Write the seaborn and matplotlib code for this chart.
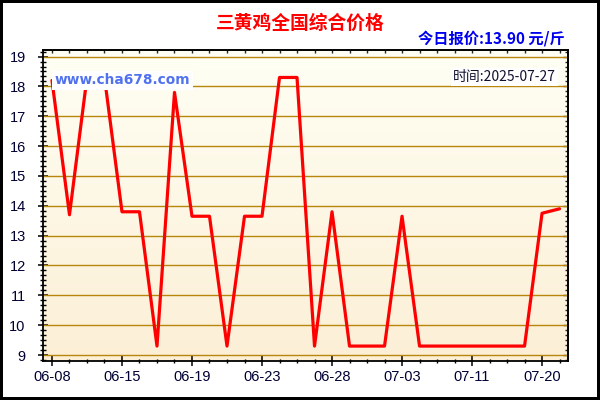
import matplotlib
matplotlib.use("Agg")
import matplotlib.pyplot as plt
import seaborn as sns
import numpy as np
import pandas as pd
from matplotlib.colors import LinearSegmentedColormap
from matplotlib.ticker import MultipleLocator, FixedLocator

# ---- data ----
dates = ["06-08", "06-09", "06-11", "06-13", "06-15", "06-16", "06-17", "06-18",
         "06-19", "06-20", "06-21", "06-22", "06-23", "06-24", "06-25", "06-26",
         "06-28", "06-29", "06-30", "07-01", "07-03", "07-04", "07-06", "07-08",
         "07-11", "07-13", "07-16", "07-18", "07-20", "07-27"]
prices = [18.2, 13.7, 18.3, 18.3, 13.8, 13.8, 9.3, 17.8, 13.65, 13.65,
          9.3, 13.65, 13.65, 18.3, 18.3, 9.3, 13.8, 9.3, 9.3, 9.3,
          13.65, 9.3, 9.3, 9.3, 9.3, 9.3, 9.3, 9.3, 13.75, 13.9]
y_ticks = [9, 10, 11, 12, 13, 14, 15, 16, 17, 18, 19]
title_text = "三黄鸡全国综合价格"
price_text = "今日报价:13.90 元/斤"
site_text = "www.cha678.com"
time_text = "时间:2025-07-27"

df = pd.DataFrame({"idx": np.arange(len(dates)), "date": dates, "price": prices})

sns.set_style("white")
plt.rcParams["font.family"] = ["Liberation Sans", "DejaVu Sans"]
CJK = ["Noto Sans CJK SC", "DejaVu Sans"]

W, H = 600, 400
fig = plt.figure(figsize=(6, 4), dpi=100)
fig.patch.set_facecolor("white")
fig.patch.set_edgecolor("black")
fig.patch.set_linewidth(3)

def px(x, y):
    return x / W, 1 - y / H

ax = fig.add_axes([42.7 / W, 39 / H, 525.6 / W, 311 / H])

xlim = (-0.53, 29.5)
ylim = (8.8, 19.22)

# gradient background (light at top, beige at bottom)
grad = np.linspace(0, 1, 256).reshape(-1, 1)
cmap = LinearSegmentedColormap.from_list("bg", ["#FFFFF4", "#FCEFD6"])
ax.imshow(grad, extent=[xlim[0], xlim[1], ylim[0], ylim[1]], aspect="auto",
          cmap=cmap, zorder=0, origin="upper")

# grid lines
for yv in y_ticks:
    ax.axhline(yv, color="#B8860B", lw=1.0, zorder=1)

sns.lineplot(data=df, x="idx", y="price", ax=ax, color="#FF0000", lw=2.3,
             zorder=3, legend=False)

ax.set_xlim(*xlim)
ax.set_ylim(*ylim)
ax.set_xlabel("")
ax.set_ylabel("")

major_idx = list(range(0, len(dates), 4))
ax.xaxis.set_major_locator(FixedLocator(major_idx))
ax.set_xticklabels([dates[i] for i in major_idx])
ax.xaxis.set_minor_locator(MultipleLocator(1))
ax.yaxis.set_major_locator(FixedLocator(y_ticks))
ax.set_yticklabels([str(v) for v in y_ticks])
ax.yaxis.set_minor_locator(MultipleLocator(1 / 6))

ax.tick_params(axis="x", which="major", direction="inout", length=7, width=1.1,
               color="black", labelsize=10.5, labelcolor="#000033", pad=3,
               top=False, bottom=True)
ax.tick_params(axis="x", which="minor", direction="inout", length=3.2, width=1,
               color="black", top=False, bottom=True)
ax.tick_params(axis="y", which="major", direction="inout", length=7.5, width=1.1,
               color="black", labelsize=10.5, labelcolor="#000033", pad=8.5,
               right=False, left=True)
ax.tick_params(axis="y", which="minor", direction="inout", length=4.5, width=1,
               color="black", right=False, left=True)

for sp in ax.spines.values():
    sp.set_color("black")
    sp.set_linewidth(1.3)
    sp.set_zorder(5)

# top & right inward ticks
top = ax.secondary_xaxis("top")
top.xaxis.set_major_locator(FixedLocator(major_idx))
top.xaxis.set_minor_locator(MultipleLocator(1))
top.tick_params(which="both", direction="in", length=2, width=1, labeltop=False)
top.spines["top"].set_linewidth(1.3)
right = ax.secondary_yaxis("right")
right.yaxis.set_major_locator(FixedLocator(y_ticks))
right.yaxis.set_minor_locator(MultipleLocator(1 / 6))
right.tick_params(which="major", direction="in", length=3.5, width=1, labelright=False)
right.tick_params(which="minor", direction="in", length=2, width=1, labelright=False)
right.spines["right"].set_linewidth(1.3)

# texts
fig.text(*px(300.5, 23.5), title_text, color="#FF0000", fontsize=13.5,
         fontweight="bold", family=CJK, ha="center", va="center")
fig.text(*px(565, 39), price_text, color="#0000EE", fontsize=11,
         fontweight="bold", family=CJK, ha="right", va="center")
fig.text(*px(55, 80.5), site_text, color="#5072EE", fontsize=9.9,
         fontweight="bold", family=["DejaVu Sans"], ha="left", va="center",
         bbox=dict(boxstyle="square,pad=0.2", fc="white", ec="none"), zorder=6)
fig.text(*px(453, 77), time_text, color="#101030", fontsize=10,
         family=CJK, ha="left", va="center",
         bbox=dict(boxstyle="square,pad=0.15", fc="white", ec="none"), zorder=6)

fig.savefig("out.png", dpi=100, facecolor=fig.get_facecolor(),
            edgecolor=fig.get_edgecolor())
